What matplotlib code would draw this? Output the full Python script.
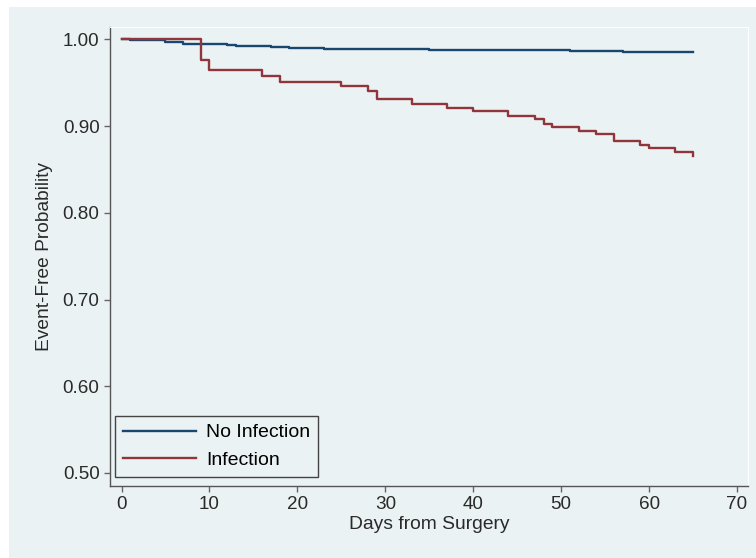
import matplotlib
matplotlib.use('Agg')
import matplotlib.pyplot as plt
from matplotlib.patches import Rectangle

plt.rcParams['font.family'] = ['Liberation Sans', 'DejaVu Sans']

# Kaplan-Meier estimates
no_inf_days = [0, 1, 5, 7, 9, 12, 13, 15, 17, 19, 21, 23, 27, 31, 35, 39, 43, 48, 51, 57, 65]
no_inf_surv = [1.0, 0.9990, 0.9973, 0.9953, 0.9946, 0.9934, 0.9930, 0.9923, 0.9915, 0.9907,
               0.9903, 0.9896, 0.9892, 0.9888, 0.9884, 0.9880, 0.9876, 0.9873, 0.9865,
               0.9853, 0.9853]

inf_days = [0, 9, 10, 16, 18, 25, 28, 29, 33, 37, 40, 44, 47, 48, 49, 52, 54, 56, 59, 60, 63, 65]
inf_surv = [1.0, 0.976, 0.965, 0.958, 0.9515, 0.946, 0.941, 0.931, 0.926, 0.921, 0.917,
            0.912, 0.908, 0.903, 0.8995, 0.895, 0.891, 0.8825, 0.878, 0.8745, 0.870, 0.866]

x_ticks = [0, 10, 20, 30, 40, 50, 60, 70]
y_ticks = [0.50, 0.60, 0.70, 0.80, 0.90, 1.00]

BG = '#EAF2F3'
BLUE = '#1A476F'
RED = '#90353B'
TXT = '#2a2a2a'
W, H = 756, 558

fig = plt.figure(figsize=(W / 100, H / 100), dpi=100, facecolor='white')
fig.patches.append(Rectangle((9 / W, 0), 1, 1 - 7 / H, transform=fig.transFigure,
                             facecolor=BG, edgecolor='none', zorder=-1))

ax = fig.add_axes([110 / W, (H - 486) / H, (748 - 110) / W, (486 - 27) / H])
ax.set_facecolor(BG)

ax.step(no_inf_days, no_inf_surv, where='post', color=BLUE, lw=1.7, label='No Infection')
ax.step(inf_days, inf_surv, where='post', color=RED, lw=1.7, label='Infection')

ax.set_xlim(-1.31, 71.25)
ax.set_ylim(0.485, 1.0144)
ax.set_xticks(x_ticks)
ax.set_yticks(y_ticks)
ax.set_yticklabels([f'{v:.2f}' for v in y_ticks])
ax.tick_params(axis='both', direction='out', length=4.5, width=1, color='#666666',
               labelsize=13.6, labelcolor=TXT, pad=3)

for side in ['top', 'right']:
    ax.spines[side].set_color('white')
for side in ['left', 'bottom']:
    ax.spines[side].set_color('#555555')
    ax.spines[side].set_linewidth(1)

ax.set_xlabel('Days from Surgery', fontsize=13.9, color=TXT, labelpad=2)
ax.set_ylabel('Event-Free Probability', fontsize=13.8, color=TXT, labelpad=7)

leg = ax.legend(loc='lower left', bbox_to_anchor=(0.008, 0.02), borderaxespad=0,
                fontsize=14, handlelength=3.75, handletextpad=0.55, borderpad=0.4,
                labelspacing=0.52, fancybox=False, framealpha=1)
leg.get_frame().set_facecolor(BG)
leg.get_frame().set_edgecolor('#444444')
leg.get_frame().set_linewidth(1)

fig.savefig('out.png', dpi=100, facecolor=fig.get_facecolor())
